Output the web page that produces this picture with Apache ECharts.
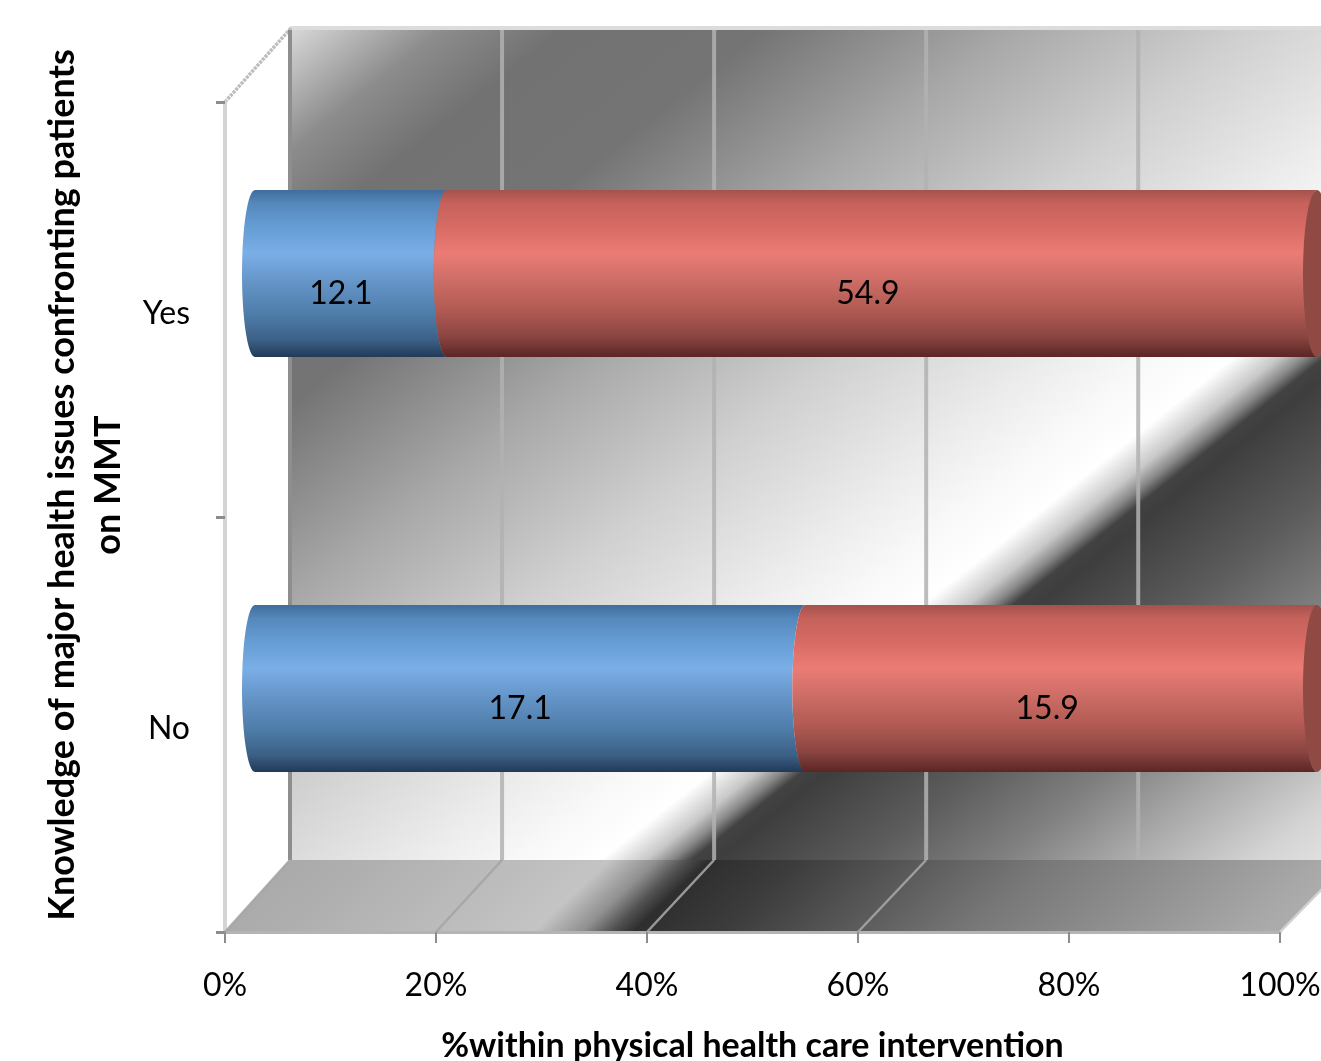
<!DOCTYPE html>
<html>
<head>
<meta charset="utf-8">
<style>html,body{margin:0;padding:0;background:#fff}#c{width:1321px;height:1061px}</style>
<script src="https://cdn.jsdelivr.net/npm/echarts@6/dist/echarts.min.js"></script>
</head>
<body>
<div id="c"></div>
<script>
var categories = ['No', 'Yes'];
var blueValues = [17.1, 12.1];
var redValues = [15.9, 54.9];
var wallGridValues = [0, 20, 40, 60, 80];
var floorGridValues = [0, 20, 40, 60, 100];
var xTitle = '%within physical health care intervention';
var yTitle = 'Knowledge of major health issues confronting patients\non MMT';

var FONT = 'Lato';
var depthX = 65, depthY = -72, depthScale = 0.005;

function band(k, stops) {
  var d = 1 + k * k, t0 = stops[0][0], t1 = stops[stops.length - 1][0];
  return {
    type: 'linear', global: true,
    x: t0 / d, y: t0 * k / d, x2: t1 / d, y2: t1 * k / d,
    colorStops: stops.map(function (s) { return { offset: (s[0] - t0) / (t1 - t0), color: s[1] }; })
  };
}
var wallFill = band(1.26, [
  [320, '#dcdcdc'], [480, '#8c8c8c'], [600, '#727272'], [800, '#747474'], [1050, '#a8a8a8'],
  [1287, '#d0d0d0'], [1500, '#ececec'], [1600, '#f8f8f8'], [1684, '#ffffff'], [1730, '#c8c8c8'],
  [1755, '#888888'], [1775, '#424242'], [1800, '#3e3e3e'], [1946, '#5c5c5c'], [2083, '#808080'],
  [2200, '#a8a8a8'], [2340, '#d4d4d4'], [2480, '#ececec']
]);
var floorFill = band(1.05, [
  [1150, '#a8a8a8'], [1245, '#adadad'], [1512, '#c4c4c4'], [1560, '#909090'], [1590, '#505050'],
  [1612, '#2e2e2e'], [1700, '#3c3c3c'], [1805, '#555555'], [1945, '#777777'], [2225, '#a8a8a8'], [2350, '#b8b8b8']
]);
var blueFill = { type: 'linear', x: 0, y: 0, x2: 0, y2: 1, colorStops: [
  { offset: 0, color: '#3f6d9c' }, { offset: 0.08, color: '#5588bb' }, { offset: 0.22, color: '#659dd4' },
  { offset: 0.38, color: '#7aaee6' }, { offset: 0.55, color: '#6595c8' }, { offset: 0.75, color: '#4d7ca8' },
  { offset: 0.9, color: '#3c5f85' }, { offset: 1, color: '#213a58' } ] };
var redFill = { type: 'linear', x: 0, y: 0, x2: 0, y2: 1, colorStops: [
  { offset: 0, color: '#a5524c' }, { offset: 0.08, color: '#c5625b' }, { offset: 0.22, color: '#d76b63' },
  { offset: 0.38, color: '#eb7c75' }, { offset: 0.52, color: '#d06f68' }, { offset: 0.72, color: '#b15a53' },
  { offset: 0.88, color: '#8a4541' }, { offset: 1, color: '#5a2624' } ] };

function rows(vals, other, first) {
  return vals.map(function (v, i) {
    var tot = v + other[i], b = blueValues[i] / tot * 100;
    return first ? [i, 0, b, v] : [i, b, 100, v];
  });
}
function segment(fill, isLast, labelShift) {
  return function (params, api) {
    var a = api.coord([api.value(1), api.value(0)]);
    var b = api.coord([api.value(2), api.value(0)]);
    var h = api.size([0, 1])[1] * 167 / 415, cy = a[1], rx = 13, pts = [], n = 32, i, th;
    for (i = 0; i <= n; i++) { th = Math.PI * i / n;
      pts.push([a[0] - rx * Math.sin(th), cy - h / 2 * Math.cos(th)]); }
    for (i = n; i >= 0; i--) { th = Math.PI * i / n;
      pts.push([b[0] - rx * Math.sin(th), cy - h / 2 * Math.cos(th)]); }
    var kids = [{ type: 'polygon', shape: { points: pts }, style: { fill: fill } }];
    if (isLast) {
      kids.push({ type: 'ellipse', shape: { cx: b[0], cy: cy, rx: rx + 1, ry: h / 2 }, style: { fill: '#8f4a44' } });
    }
    kids.push({ type: 'text', style: {
      text: String(api.value(3)), x: (a[0] + b[0]) / 2 + labelShift, y: cy + 20,
      font: '32px ' + FONT, fill: '#000', align: 'center', verticalAlign: 'middle' } });
    return { type: 'group', children: kids };
  };
}
function wallX(x, left) { return x + depthX + (x - left) * depthScale; }
function wallGrid(params, api) {
  var v = api.value(0), p = api.coord([v, 0]), base = p[1] + api.size([0, 1])[1] / 2;
  var x = wallX(p[0], api.coord([0, 0])[0]);
  return { type: 'line', shape: { x1: x, y1: base + depthY, x2: x, y2: 30 },
    style: { stroke: v === 0 ? '#8e8e8e' : 'rgba(178,178,178,0.85)', lineWidth: 4 } };
}
function floorGrid(params, api) {
  var v = api.value(0), p = api.coord([v, 0]), base = p[1] + api.size([0, 1])[1] / 2;
  var x = wallX(p[0], api.coord([0, 0])[0]);
  return { type: 'line', shape: { x1: p[0], y1: base, x2: x, y2: base + depthY },
    style: { stroke: v === 100 ? '#d0d0d0' : 'rgba(165,165,165,0.9)', lineWidth: 2.5 } };
}

var chart = echarts.init(document.getElementById('c'), null, { renderer: 'canvas' });
chart.setOption({
  animation: false,
  backgroundColor: '#ffffff',
  graphic: { elements: [
    { type: 'polygon', z: -5, silent: true, shape: { points: [[290, 29], [1321, 29], [1321, 860], [290, 860]] }, style: { fill: wallFill } },
    { type: 'polygon', z: -5, silent: true, shape: { points: [[290, 860], [1351, 860], [1280, 932], [225, 932]] }, style: { fill: floorFill } },
    { type: 'line', z: -4, silent: true, shape: { x1: 290, y1: 28, x2: 1321, y2: 28 }, style: { stroke: '#dcdcdc', lineWidth: 4 } },
    { type: 'line', z: -4, silent: true, shape: { x1: 225, y1: 102, x2: 291, y2: 28 }, style: { stroke: '#bdbdbd', lineWidth: 3.5, lineDash: [3, 1] } }
  ] },
  grid: [
    { left: 225, width: 1055, top: 102, height: 830, containLabel: false, outerBoundsMode: 'none' },
    { left: 255, width: 1062, top: 66, height: 830, containLabel: false, outerBoundsMode: 'none' }
  ],
  xAxis: [
    { gridIndex: 0, type: 'value', min: 0, max: 100, interval: 20,
      axisLine: { show: true, lineStyle: { color: '#b4b4b4', width: 3 } },
      axisTick: { show: true, length: 11, lineStyle: { color: '#8c8c8c', width: 2 } },
      splitLine: { show: false },
      axisLabel: { margin: 38, fontFamily: FONT, fontSize: 32, color: '#000', formatter: '{value}%', hideOverlap: false },
      name: xTitle, nameLocation: 'middle', nameGap: 97,
      nameTextStyle: { fontFamily: FONT, fontSize: 34, fontWeight: 'bold', color: '#000', align: 'center' } },
    { gridIndex: 1, type: 'value', min: 0, max: 100, show: false }
  ],
  yAxis: [
    { gridIndex: 0, type: 'category', data: categories,
      axisLine: { show: true, lineStyle: { color: '#d4d4d4', width: 4 } },
      axisTick: { show: true, length: 9, alignWithLabel: false, lineStyle: { color: '#8c8c8c', width: 3 } },
      splitLine: { show: false },
      axisLabel: { margin: 35, fontFamily: FONT, fontSize: 32, color: '#000', verticalAlign: 'top', lineHeight: 8 },
      name: yTitle, nameLocation: 'middle', nameGap: 138, nameRotate: 90,
      nameTextStyle: { fontFamily: FONT, fontSize: 36, fontWeight: 'bold', color: '#000', lineHeight: 46, align: 'center', verticalAlign: 'middle', padding: [0, 0, 0, 64] } },
    { gridIndex: 1, type: 'category', data: categories, show: false }
  ],
  series: [
    { type: 'custom', name: 'wall grid', silent: true, z: 1, xAxisIndex: 0, yAxisIndex: 0, clip: false,
      data: wallGridValues.map(function (v) { return [v, 0]; }), encode: { x: 0, y: 1 }, renderItem: wallGrid },
    { type: 'custom', name: 'floor grid', silent: true, z: 1, xAxisIndex: 0, yAxisIndex: 0, clip: false,
      data: floorGridValues.map(function (v) { return [v, 0]; }), encode: { x: 0, y: 1 }, renderItem: floorGrid },
    { type: 'custom', name: 'Blue', silent: true, z: 3, xAxisIndex: 1, yAxisIndex: 1, clip: false,
      data: rows(blueValues, redValues, true), encode: { x: [1, 2], y: 0 }, renderItem: segment(blueFill, false, -10) },
    { type: 'custom', name: 'Red', silent: true, z: 4, xAxisIndex: 1, yAxisIndex: 1, clip: false,
      data: rows(redValues, blueValues, false), encode: { x: [1, 2], y: 0 }, renderItem: segment(redFill, true, -14) }
  ]
});
</script>
</body>
</html>
